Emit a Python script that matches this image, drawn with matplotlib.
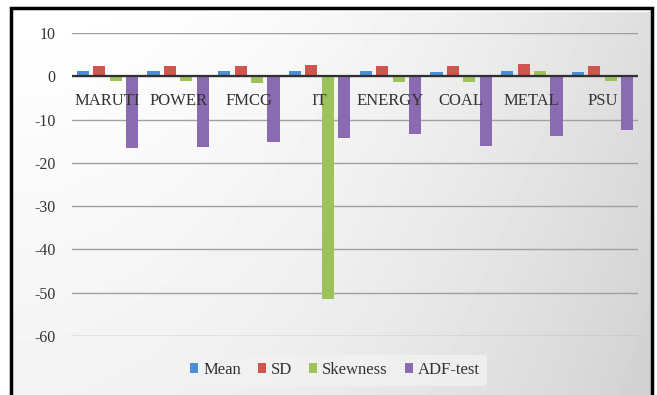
import matplotlib
matplotlib.use("Agg")
from matplotlib import pyplot as plt
from matplotlib.patches import Rectangle
import numpy as np

plt.rcParams["font.family"] = ["Liberation Serif", "DejaVu Serif"]
plt.rcParams["axes.unicode_minus"] = False

categories = ["MARUTI", "POWER", "FMCG", "IT", "ENERGY", "COAL", "METAL", "PSU"]
series_names = ["Mean", "SD", "Skewness", "ADF-test"]
mean_vals = [1.2, 1.2, 1.2, 1.2, 1.2, 0.9, 1.2, 0.9]
sd_vals = [2.3, 2.3, 2.3, 2.5, 2.3, 2.4, 2.8, 2.4]
skew_vals = [-1.1, -1.1, -1.6, -51.5, -1.4, -1.4, 1.2, -1.1]
adf_vals = [-16.6, -16.4, -15.2, -14.3, -13.4, -16.2, -13.8, -12.5]
colors = ["#4a8fd6", "#d0554f", "#9cc25a", "#8a6ab0"]

fig = plt.figure(figsize=(6.57, 3.95), dpi=100)
fig.patch.set_facecolor("white")

# background panel with a soft gradient, like the pasted Excel chart
bg = fig.add_axes([13 / 657, 0, 638 / 657, 383 / 395], zorder=0)
gx = np.linspace(0, 1, 200)
gy = np.linspace(0, 1, 120)
GX, GY = np.meshgrid(gx, gy)
shade = 1.0 - 0.13 * GX ** 2 - 0.05 * GY
bg.imshow(shade, cmap="gray", vmin=0, vmax=1, aspect="auto",
          extent=[0, 1, 0, 1], origin="upper")
bg.set_axis_off()

fig.patches.append(Rectangle((11 / 657, -0.01), 641 / 657, 387 / 395 + 0.01,
                             transform=fig.transFigure, fill=False,
                             edgecolor="black", linewidth=2.5, zorder=5))

ax = fig.add_axes([72 / 657, 59 / 395, 566 / 657, 303 / 395], zorder=1)
ax.patch.set_alpha(0)

x = np.arange(len(categories))
width = 0.17
step = 0.232
data = [mean_vals, sd_vals, skew_vals, adf_vals]
for i, (name, vals, c) in enumerate(zip(series_names, data, colors)):
    ax.bar(x + (i - 1.5) * step, vals, width, color=c, label=name, zorder=3)

ax.set_xlim(-0.5, len(categories) - 0.5)
ax.set_ylim(-60, 10)
ax.set_yticks(range(-60, 11, 10))
ax.yaxis.grid(True, color="#a0a0a0", linewidth=1.0, zorder=0)
ax.axhline(0, color="#303030", linewidth=1.6, zorder=4)
for s in ax.spines.values():
    s.set_visible(False)
ax.tick_params(axis="y", length=0, labelsize=11.5, pad=12, colors="#333333")
ax.set_xticks([])

for xi, lab in zip(x, categories):
    ax.text(xi, -5.8, lab, ha="center", va="center", fontsize=12, color="#333333", zorder=5)

leg = fig.legend(loc="center", bbox_to_anchor=(335 / 657, 1 - 370 / 395), ncol=4,
                 frameon=True, fontsize=12, handlelength=0.5, handleheight=0.5,
                 handletextpad=0.3, columnspacing=1.0, borderpad=0.45)
leg.get_frame().set_facecolor("#f2f2f2")
leg.get_frame().set_edgecolor("none")
for t in leg.get_texts():
    t.set_color("#333333")

fig.savefig("out.png", dpi=100)
